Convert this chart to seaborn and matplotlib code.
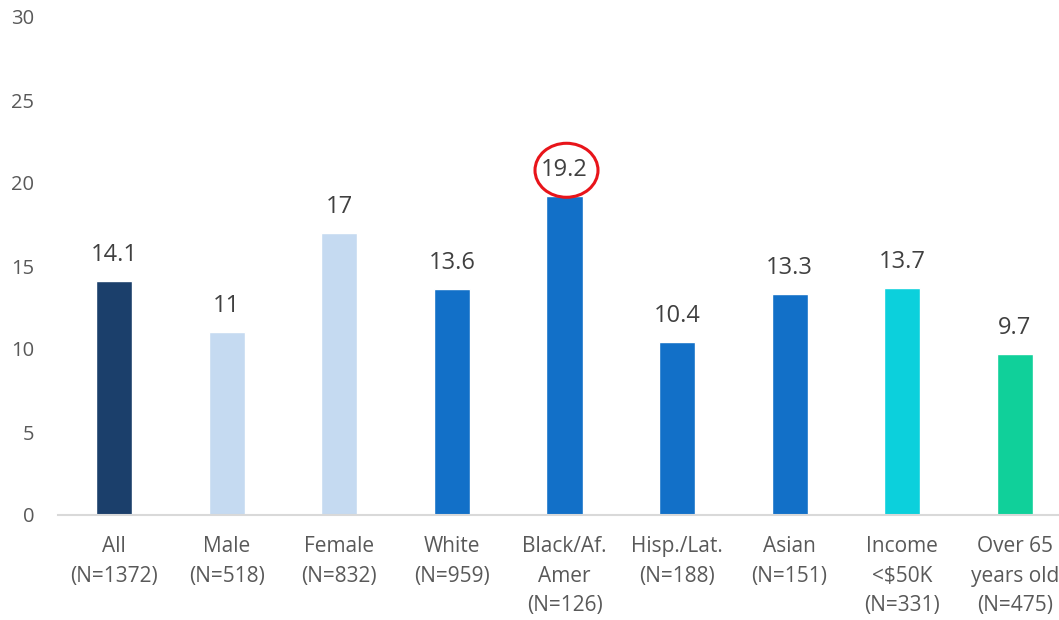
import matplotlib
matplotlib.use("Agg")
import matplotlib.pyplot as plt
import matplotlib.transforms as mtransforms
from matplotlib.patches import Ellipse
import seaborn as sns
import pandas as pd

categories = ["All\n(N=1372)", "Male\n(N=518)", "Female\n(N=832)", "White\n(N=959)",
              "Black/Af.\nAmer\n(N=126)", "Hisp./Lat.\n(N=188)", "Asian\n(N=151)",
              "Income\n<$50K\n(N=331)", "Over 65\nyears old\n(N=475)"]
values = [14.1, 11, 17, 13.6, 19.2, 10.4, 13.3, 13.7, 9.7]
value_labels = ["14.1", "11", "17", "13.6", "19.2", "10.4", "13.3", "13.7", "9.7"]
colors = ["#1b3f6b", "#c5daf1", "#c5daf1", "#1270c8", "#1270c8", "#1270c8",
          "#1270c8", "#0cd0dc", "#10d09a"]
highlight = "19.2"
yticks = [0, 5, 10, 15, 20, 25, 30]

sns.set_theme(style="white")
plt.rcParams['font.family'] = ['Open Sans', 'DejaVu Sans']

df = pd.DataFrame({"cat": categories, "val": values})

fig = plt.figure(figsize=(10.59, 6.2), dpi=100)
ax = fig.add_axes([58/1059, 105/620, 1013/1059, 498/620])
sns.barplot(data=df, x="cat", y="val", hue="cat", palette=colors, legend=False,
            width=0.32, ax=ax, saturation=1)

ax.set_ylim(0, 30)
ax.set_xlim(-0.5, len(categories) - 0.5)
ax.set_yticks(yticks)
ax.set_xlabel("")
ax.set_ylabel("")
for s in ["top", "right", "left"]:
    ax.spines[s].set_visible(False)
ax.spines["bottom"].set_color("#d9d9d9")
ax.spines["bottom"].set_linewidth(1.5)
ax.tick_params(axis="y", length=0, pad=17, labelsize=14.5, labelcolor="#595959")
ax.tick_params(axis="x", length=0, pad=15, labelsize=15, labelcolor="#595959")
for t in ax.get_xticklabels():
    t.set_linespacing(1.55)

for i, (v, lab) in enumerate(zip(values, value_labels)):
    ax.annotate(lab, xy=(i, v), xytext=(0, 18.7), textcoords="offset points",
                ha="center", va="center", fontsize=17, color="#404040")
    if lab == highlight:
        trans = mtransforms.IdentityTransform() + mtransforms.ScaledTranslation(i, v, ax.transData)
        ell = Ellipse((2, 26), 63, 54, transform=trans, fc="none", ec="#e8141a",
                      lw=2.2, clip_on=False)
        ax.add_artist(ell)

fig.savefig("out.png", dpi=100)
